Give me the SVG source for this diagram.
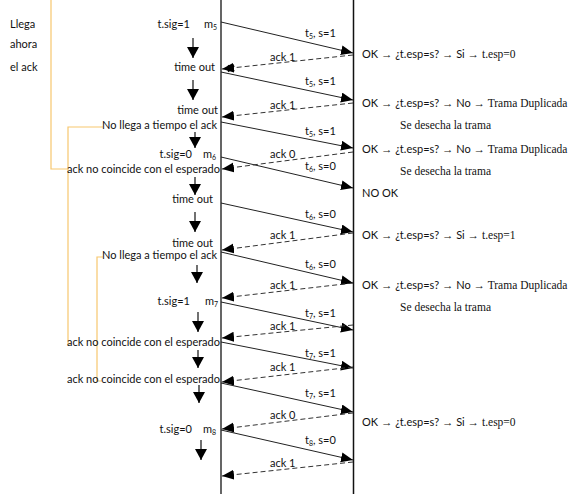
<svg xmlns="http://www.w3.org/2000/svg" width="586" height="504" viewBox="0 0 586 504">
<style>
.s{font-family:Lato,"Liberation Sans",sans-serif;font-size:11px;fill:#111}
.r{font-family:"Liberation Serif","Times New Roman",serif;font-size:11.5px;fill:#111}
.e{text-anchor:end}
.sub{font-size:7px}
.data{stroke:#222;stroke-width:1;fill:none;marker-end:url(#ah)}
.ack{stroke:#333;stroke-width:1;stroke-dasharray:5,3;fill:none;marker-end:url(#ah)}
.down{stroke:#111;stroke-width:1.2;marker-end:url(#dh)}
.or{stroke:#f7c76e;stroke-width:1.2;fill:none}
</style>
<defs>
<marker id="ah" markerUnits="userSpaceOnUse" markerWidth="14" markerHeight="12" refX="12" refY="5" orient="auto">
<path d="M0,0 L12,5 L0,10 Z" fill="#000"/>
</marker>
<marker id="dh" markerUnits="userSpaceOnUse" markerWidth="14" markerHeight="14" refX="11" refY="6" orient="auto">
<path d="M0,0 L11,6 L0,12 Z" fill="#000"/>
</marker>
</defs>
<rect width="586" height="504" fill="#fff"/>

<g id="annotations-lines">
<path class="or" d="M51,0 V169 H68"/>
<path class="or" d="M103,127 H68 V344 H71"/>
<path class="or" d="M103,257 H97 V381 H102"/>
</g>

<g id="lifelines">
<line x1="221" y1="0" x2="221" y2="494" stroke="#555" stroke-width="1.8"/>
<line x1="353.5" y1="0" x2="353.5" y2="494" stroke="#111" stroke-width="1.5"/>
</g>

<g id="connectors">
<line class="data" x1="221" y1="22" x2="353" y2="53"/>
<line class="data" x1="221" y1="72" x2="353" y2="100"/>
<line class="data" x1="221" y1="122" x2="353" y2="148"/>
<line class="data" x1="221" y1="157" x2="353" y2="188"/>
<line class="data" x1="221" y1="203" x2="353" y2="232"/>
<line class="data" x1="221" y1="252" x2="353" y2="283"/>
<line class="data" x1="221" y1="302" x2="353" y2="330"/>
<line class="data" x1="221" y1="342" x2="353" y2="368"/>
<line class="data" x1="221" y1="383" x2="353" y2="412"/>
<line class="data" x1="221" y1="430" x2="353" y2="460"/>

<line class="ack" x1="353" y1="55" x2="222" y2="69"/>
<line class="ack" x1="353" y1="103" x2="222" y2="117"/>
<line class="ack" x1="353" y1="152" x2="222" y2="169"/>
<line class="ack" x1="353" y1="233" x2="222" y2="250"/>
<line class="ack" x1="353" y1="283" x2="222" y2="298"/>
<line class="ack" x1="353" y1="325" x2="222" y2="338"/>
<line class="ack" x1="353" y1="367" x2="222" y2="382"/>
<line class="ack" x1="353" y1="413" x2="222" y2="429"/>
<line class="ack" x1="353" y1="462" x2="222" y2="476"/>

<path d="M228,65.5 L234,71.5 M234,65.5 L228,71.5" stroke="#000" stroke-width="2"/>

<line class="down" x1="193" y1="38" x2="193" y2="58"/>
<line class="down" x1="193" y1="80" x2="193" y2="100"/>
<line class="down" x1="195" y1="132" x2="195" y2="148"/>
<line class="down" x1="195" y1="177" x2="195" y2="195"/>
<line class="down" x1="195" y1="212" x2="195" y2="232"/>
<line class="down" x1="197" y1="265" x2="197" y2="283"/>
<line class="down" x1="198" y1="312" x2="198" y2="332"/>
<line class="down" x1="198" y1="350" x2="198" y2="368"/>
<line class="down" x1="199" y1="385" x2="199" y2="403"/>
<line class="down" x1="201" y1="440" x2="201" y2="460"/>
</g>

<g id="connector-labels" class="s">
<text x="305" y="37">t<tspan class="sub" dy="2">5</tspan><tspan dy="-2">, s=1</tspan></text>
<text x="305" y="85">t<tspan class="sub" dy="2">5</tspan><tspan dy="-2">, s=1</tspan></text>
<text x="305" y="135">t<tspan class="sub" dy="2">5</tspan><tspan dy="-2">, s=1</tspan></text>
<text x="305" y="170">t<tspan class="sub" dy="2">6</tspan><tspan dy="-2">, s=0</tspan></text>
<text x="305" y="218">t<tspan class="sub" dy="2">6</tspan><tspan dy="-2">, s=0</tspan></text>
<text x="305" y="268">t<tspan class="sub" dy="2">6</tspan><tspan dy="-2">, s=0</tspan></text>
<text x="305" y="317">t<tspan class="sub" dy="2">7</tspan><tspan dy="-2">, s=1</tspan></text>
<text x="305" y="357">t<tspan class="sub" dy="2">7</tspan><tspan dy="-2">, s=1</tspan></text>
<text x="305" y="397">t<tspan class="sub" dy="2">7</tspan><tspan dy="-2">, s=1</tspan></text>
<text x="305" y="444">t<tspan class="sub" dy="2">8</tspan><tspan dy="-2">, s=0</tspan></text>

<text x="270" y="60.5">ack 1</text>
<text x="270" y="108.5">ack 1</text>
<text x="270" y="157.5">ack 0</text>
<text x="270" y="238.5">ack 1</text>
<text x="270" y="288.5">ack 1</text>
<text x="270" y="329.5">ack 1</text>
<text x="270" y="370.5">ack 1</text>
<text x="270" y="418.5">ack 0</text>
<text x="270" y="466.5">ack 1</text>
</g>

<g id="sender-notes" class="s">
<text x="10" y="28">Llega</text>
<text x="10" y="48">ahora</text>
<text x="10" y="71">el ack</text>

<text class="e" x="190" y="28">t.sig=1</text>
<text x="204" y="28">m<tspan class="sub" dy="2">5</tspan></text>
<text class="e" x="215" y="71">time out</text>
<text class="e" x="218" y="114">time out</text>
<text class="e" x="217" y="129">No llega a tiempo el ack</text>
<text class="e" x="192" y="158">t.sig=0</text>
<text x="203" y="158">m<tspan class="sub" dy="2">6</tspan></text>
<text class="e" x="220" y="173">ack no coincide con el esperado</text>
<text class="e" x="213" y="203">time out</text>
<text class="e" x="213" y="247">time out</text>
<text class="e" x="217" y="259">No llega a tiempo el ack</text>
<text class="e" x="190" y="305">t.sig=1</text>
<text x="205" y="305">m<tspan class="sub" dy="2">7</tspan></text>
<text class="e" x="220" y="346">ack no coincide con el esperado</text>
<text class="e" x="220" y="383">ack no coincide con el esperado</text>
<text class="e" x="192" y="433">t.sig=0</text>
<text x="203" y="433">m<tspan class="sub" dy="2">8</tspan></text>
</g>

<g id="receiver-notes">
<text x="362" y="58" class="s">OK <tspan class="r">→</tspan> ¿t.esp=s? <tspan class="r">→</tspan> Si <tspan class="r">→ t.esp=0</tspan></text>
<text x="362" y="107" class="s">OK <tspan class="r">→</tspan> ¿t.esp=s? <tspan class="r">→</tspan> No <tspan class="r">→ Trama Duplicada</tspan></text>
<text x="400" y="129" class="r">Se desecha la trama</text>
<text x="362" y="153" class="s">OK <tspan class="r">→</tspan> ¿t.esp=s? <tspan class="r">→</tspan> No <tspan class="r">→ Trama Duplicada</tspan></text>
<text x="400" y="175" class="r">Se desecha la trama</text>
<text x="362" y="197" class="s">NO OK</text>
<text x="362" y="239" class="s">OK <tspan class="r">→</tspan> ¿t.esp=s? <tspan class="r">→</tspan> Si <tspan class="r">→ t.esp=1</tspan></text>
<text x="362" y="289" class="s">OK <tspan class="r">→</tspan> ¿t.esp=s? <tspan class="r">→</tspan> No <tspan class="r">→ Trama Duplicada</tspan></text>
<text x="400" y="311" class="r">Se desecha la trama</text>
<text x="362" y="426" class="s">OK <tspan class="r">→</tspan> ¿t.esp=s? <tspan class="r">→</tspan> Si <tspan class="r">→ t.esp=0</tspan></text>
</g>
</svg>
